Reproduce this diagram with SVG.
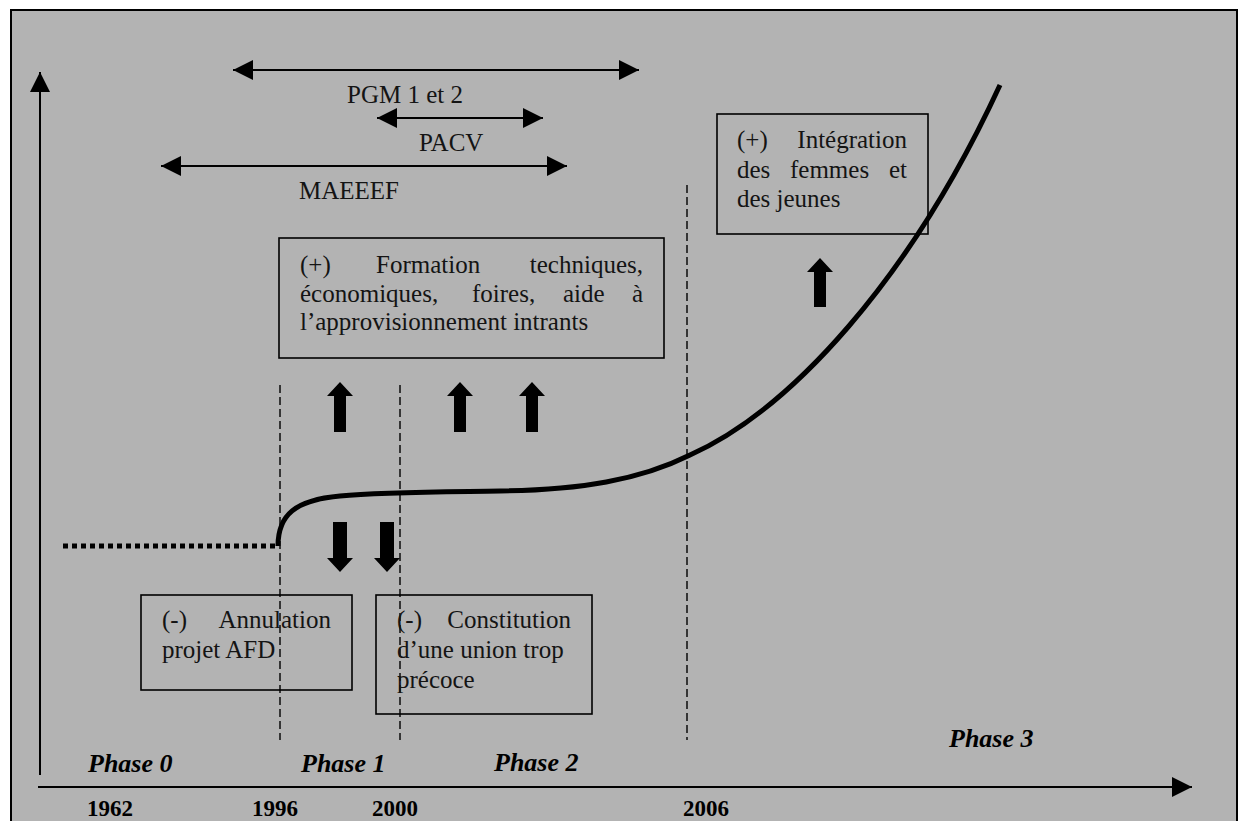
<svg xmlns="http://www.w3.org/2000/svg" width="1239" height="821" viewBox="0 0 1239 821">
  <style>
    .frame { fill: #b3b3b3; stroke: #000; stroke-width: 2; }
    .box { fill: none; stroke: #000; stroke-width: 1.6; }
    .axis { fill: none; stroke: #000; stroke-width: 2; }
    .span { fill: none; stroke: #000; stroke-width: 2; }
    .guide { fill: none; stroke: #000; stroke-width: 1.4; stroke-dasharray: 8 4; }
    .trend { fill: none; stroke: #000; stroke-width: 5; stroke-linecap: butt; }
    .dots { fill: none; stroke: #000; stroke-width: 5; stroke-dasharray: 5 4; }
    .block { fill: #000; }
    .t { font-family: "Liberation Serif", "Times New Roman", serif; font-size: 25px; fill: #141414; }
    .year { font-family: "Liberation Serif", "Times New Roman", serif; font-size: 23px; font-weight: bold; fill: #000; }
    .phase { font-family: "Liberation Serif", "Times New Roman", serif; font-size: 26px; font-weight: bold; font-style: italic; fill: #000; }
  </style>
  <defs>
    <marker id="ah" markerWidth="20" markerHeight="20" refX="20" refY="10" orient="auto-start-reverse" markerUnits="userSpaceOnUse">
      <path d="M0,0 L20,10 L0,20 z" fill="#000"/>
    </marker>
  </defs>

  <!-- background and frame -->
  <rect class="frame" x="11" y="10" width="1226" height="830"/>

  <g id="connectors">
    <!-- axes -->
    <line class="axis" x1="40" y1="775" x2="40" y2="72" marker-end="url(#ah)"/>
    <line class="axis" x1="38" y1="787" x2="1192" y2="787" marker-end="url(#ah)"/>

    <!-- programme spans -->
    <line class="span" x1="233" y1="70" x2="639" y2="70" marker-start="url(#ah)" marker-end="url(#ah)"/>
    <line class="span" x1="377" y1="118" x2="543" y2="118" marker-start="url(#ah)" marker-end="url(#ah)"/>
    <line class="span" x1="161" y1="166" x2="567" y2="166" marker-start="url(#ah)" marker-end="url(#ah)"/>

    <!-- phase boundaries -->
    <line class="guide" x1="280" y1="385" x2="280" y2="740"/>
    <line class="guide" x1="400" y1="385" x2="400" y2="740"/>
    <line class="guide" x1="687" y1="185" x2="687" y2="740"/>

    <!-- trend curve -->
    <line class="dots" x1="63" y1="546" x2="278" y2="546"/>
    <path class="trend" d="M278,546 C278,515 295,500 340,496 C380,492 430,492 500,491 C580,490 640,480 690,455 C790,410 910,280 1000,85"/>

    <!-- positive influences (up) -->
    <polygon class="block" points="340,382 353,396 346,396 346,432 334,432 334,396 327,396"/>
    <polygon class="block" points="460,382 473,396 466,396 466,432 454,432 454,396 447,396"/>
    <polygon class="block" points="532,382 545,396 538,396 538,432 526,432 526,396 519,396"/>
    <polygon class="block" points="820,258 833,272 826,272 826,307 814,307 814,272 807,272"/>

    <!-- negative influences (down) -->
    <polygon class="block" points="340,572 353,558 347,558 347,522 333,522 333,558 327,558"/>
    <polygon class="block" points="387,572 400,558 394,558 394,522 380,522 380,558 374,558"/>
  </g>

  <g id="span-labels">
    <text class="t" x="347" y="103">PGM 1 et 2</text>
    <text class="t" x="419" y="151">PACV</text>
    <text class="t" x="299" y="199">MAEEEF</text>
  </g>

  <g id="node-formation">
    <rect class="box" x="279" y="238" width="385" height="120"/>
    <text class="t" x="300" y="273">(+)</text>
    <text class="t" x="376" y="273">Formation</text>
    <text class="t" x="643" y="273" text-anchor="end">techniques,</text>
    <text class="t" x="300" y="302">économiques,</text>
    <text class="t" x="472" y="302">foires,</text>
    <text class="t" x="563" y="302">aide</text>
    <text class="t" x="643" y="302" text-anchor="end">à</text>
    <text class="t" x="300" y="330">l’approvisionnement intrants</text>
  </g>

  <g id="node-integration">
    <rect class="box" x="717" y="114" width="211" height="120"/>
    <text class="t" x="737" y="148">(+)</text>
    <text class="t" x="907" y="148" text-anchor="end">Intégration</text>
    <text class="t" x="737" y="178">des</text>
    <text class="t" x="790" y="178">femmes</text>
    <text class="t" x="907" y="178" text-anchor="end">et</text>
    <text class="t" x="737" y="207">des jeunes</text>
  </g>

  <g id="node-annulation">
    <rect class="box" x="141" y="595" width="211" height="95"/>
    <text class="t" x="162" y="628">(-)</text>
    <text class="t" x="331" y="628" text-anchor="end">Annulation</text>
    <text class="t" x="162" y="658">projet AFD</text>
  </g>

  <g id="node-constitution">
    <rect class="box" x="376" y="595" width="216" height="119"/>
    <text class="t" x="397" y="628">(-)</text>
    <text class="t" x="571" y="628" text-anchor="end">Constitution</text>
    <text class="t" x="397" y="658">d’une union trop</text>
    <text class="t" x="397" y="688">précoce</text>
  </g>

  <g id="phases">
    <text class="phase" x="88" y="772">Phase 0</text>
    <text class="phase" x="301" y="772">Phase 1</text>
    <text class="phase" x="494" y="771">Phase 2</text>
    <text class="phase" x="949" y="747">Phase 3</text>
  </g>

  <g id="years">
    <text class="year" x="87" y="816">1962</text>
    <text class="year" x="252" y="816">1996</text>
    <text class="year" x="372" y="816">2000</text>
    <text class="year" x="683" y="816">2006</text>
  </g>
</svg>
